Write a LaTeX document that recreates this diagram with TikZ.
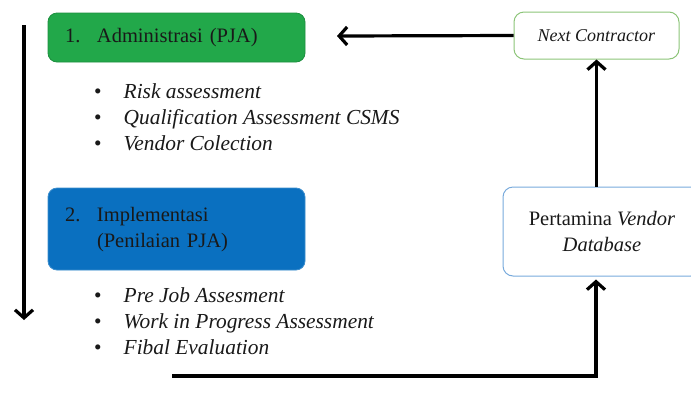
\documentclass[tikz,border=0pt]{standalone}
\usepackage{fontspec}
\setmainfont{Liberation Serif}
\usetikzlibrary{arrows.meta}
\definecolor{admgreen}{RGB}{34,168,74}
\definecolor{impblue}{RGB}{10,112,192}
\definecolor{ncborder}{RGB}{140,196,120}
\definecolor{dbborder}{RGB}{120,170,220}
\definecolor{ink}{RGB}{25,25,25}
\begin{document}
\begin{tikzpicture}[x=1pt,y=-1pt,
  every node/.style={font=\fontsize{20.5}{26}\selectfont, text=ink},
  phase/.style={rounded corners=9pt, minimum width=257pt, text width=223pt,
    inner xsep=17pt, align=left, line width=0.8pt},
  sidebox/.style={rounded corners=10pt, draw, line width=1pt, align=center},
  bullets/.style={inner sep=0pt, anchor=base west, font=\fontsize{21.4}{26}\selectfont},
  arr/.style={line width=3.2pt, -{Straight Barb[length=8pt,width=18pt]}}]
\useasboundingbox (0,0) rectangle (691,392);

% phase boxes
\node[phase, fill=admgreen, draw=admgreen!85!black, minimum height=49pt] (adm) at (176.5,37.5)
  {\makebox[32pt][l]{1.}Administrasi (PJA)};
\node[phase, fill=impblue, draw=impblue!80!white, minimum height=82pt] (imp) at (176.5,229)
  {\begin{tabular}{@{}p{32pt}@{}l@{}}2. & Implementasi\\ & (Penilaian PJA)\end{tabular}};

% item lists
\node[bullets] (list1) at (94,98)
  {\begin{tabular}[t]{@{}l@{\hspace{22pt}}l@{}}
   \textbullet & \textit{Risk assessment}\\
   \textbullet & \textit{Qualification Assessment CSMS}\\
   \textbullet & \textit{Vendor Colection}
   \end{tabular}};
\node[bullets] (list2) at (94,302)
  {\begin{tabular}[t]{@{}l@{\hspace{22pt}}l@{}}
   \textbullet & \textit{Pre Job Assesment}\\
   \textbullet & \textit{Work in Progress Assessment}\\
   \textbullet & \textit{Fibal Evaluation}
   \end{tabular}};

% right-hand boxes
\node[sidebox, draw=ncborder, minimum width=165pt, minimum height=47pt,
  font=\fontsize{18}{22}\selectfont] (nc) at (596.5,35.5) {\textit{Next Contractor}};
\node[sidebox, draw=dbborder, minimum width=198pt, minimum height=89pt] (db) at (602,231.5)
  {Pertamina \textit{Vendor}\\ \textit{Database}};

% flow direction
\coordinate (flowtop) at (24,25);
\coordinate (flowend) at (24,320);
\draw[arr] (flowtop) -- (flowend);

% connectors
\coordinate (feedback) at (337,36);
\draw[arr] (nc.west) -- (feedback);
\draw[arr] (db.north -| nc.south) -- (nc.south);
\coordinate (loopstart) at (172,376);
\draw[arr, shorten >=3pt] (loopstart) -- (596,376) -- (596,0 |- db.south);
\end{tikzpicture}
\end{document}
